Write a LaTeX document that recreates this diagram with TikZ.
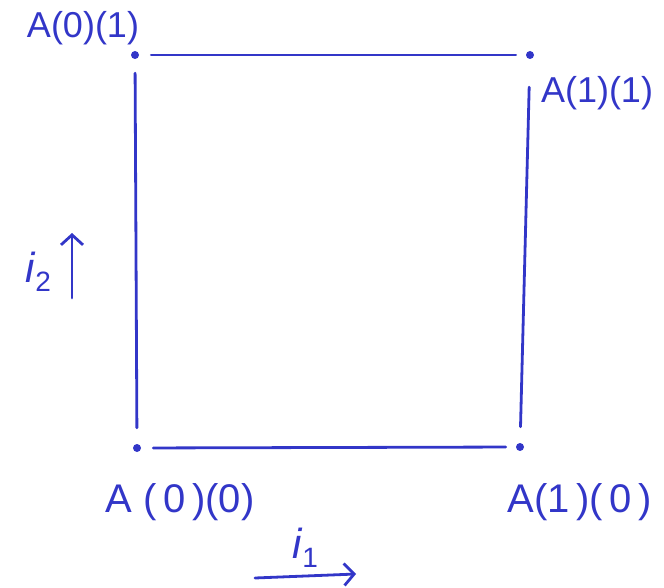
\documentclass[tikz,border=0pt]{standalone}
\usepackage{fontspec}
\setmainfont{Liberation Sans}
\usetikzlibrary{arrows.meta, positioning}
\definecolor{penblue}{HTML}{3236C8}
\tikzset{
  corner/.style   = {circle, fill=penblue, inner sep=0pt, minimum size=8pt},
  edge/.style     = {draw=penblue, line width=2.8pt, line cap=round},
  idxlabel/.style = {text=penblue, font=\fontsize{36}{40}\selectfont, inner sep=0pt},
  dirarrow/.style = {edge, -{Straight Barb[length=10pt, width=22pt]}},
}
\begin{document}
\begin{tikzpicture}[x=1pt, y=-1pt]
        \useasboundingbox (0,0) rectangle (664,588);
        \node[corner] (c01) at (135,55)  {};
        \node[corner] (c11) at (530,55)  {};
        \node[corner] (c00) at (137,448) {};
        \node[corner] (c10) at (520,447) {};
        \draw[edge, shorten <=12pt, shorten >=10pt] (c01) -- (c11);
        \draw[edge, shorten <=12pt, shorten >=10pt] (c00) -- (c10);
        \draw[edge, shorten <=14pt, shorten >=16pt] (c01) -- (c00);
        \draw[edge, shorten <=28pt, shorten >=16pt] (c11) -- (c10);
        \node[idxlabel] (l01) at (83,28)  {A(0)(1)};
        \node[idxlabel] (l11) at (597,93) {A(1)(1)};
        \node[idxlabel, font=\fontsize{40}{44}\selectfont] (l00) at (180,502) {A (\,0\,)(0)};
        \node[idxlabel, font=\fontsize{40}{44}\selectfont] (l10) at (580,502) {A(1\,)(\,0\,)};
        \node[idxlabel, font=\fontsize{42}{44}\selectfont] (i2) at (38,272) {\textit{i}\raisebox{-0.4ex}{\fontsize{28}{30}\selectfont 2}};
        \node[idxlabel, font=\fontsize{42}{44}\selectfont] (i1) at (305,548) {\textit{i}\raisebox{-0.4ex}{\fontsize{28}{30}\selectfont 1}};
        \coordinate (i2a) at (72,298);
        \coordinate (i2b) at (72,233);
        \coordinate (i1a) at (255,578);
        \coordinate (i1b) at (356,574);
        \draw[dirarrow] (i2a) -- (i2b);
        \draw[dirarrow] (i1a) -- (i1b);
    \end{tikzpicture}
\end{document}
